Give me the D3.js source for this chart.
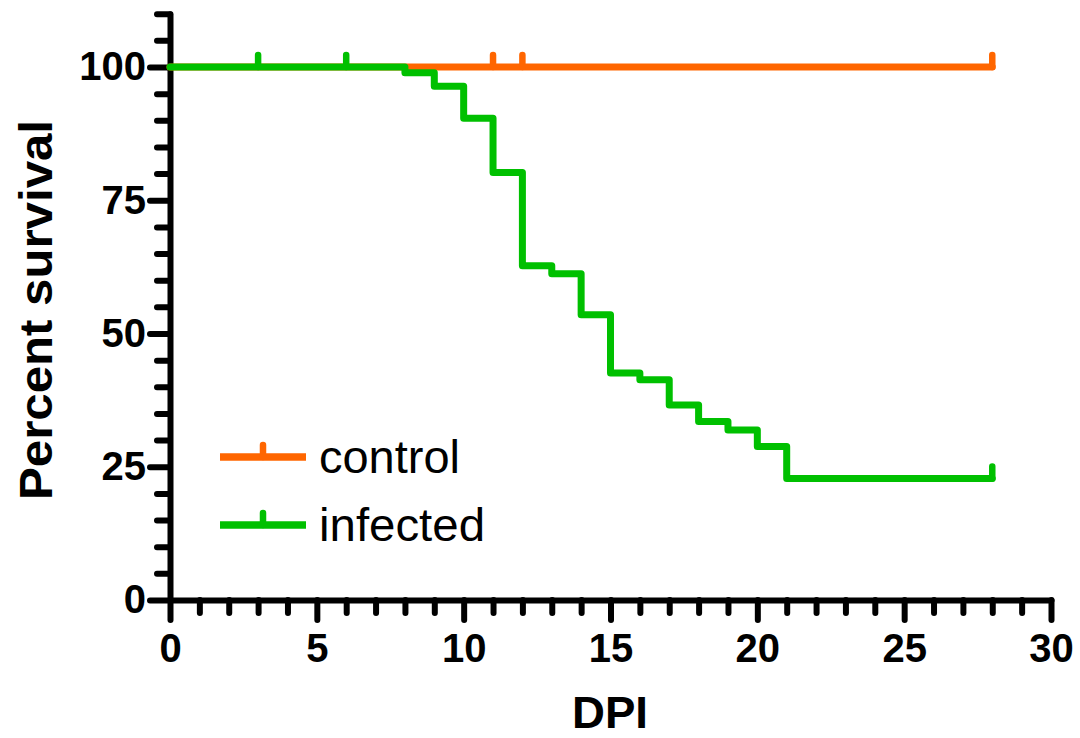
<!DOCTYPE html>
<html>
<head>
<meta charset="utf-8">
<script src="https://cdn.jsdelivr.net/npm/d3@7"></script>
<style>
  html, body { margin: 0; padding: 0; background: #fff; }
  svg { display: block; font-family: "Liberation Sans", Arial, sans-serif; }
  .axis .domain, .axis line { stroke: #000; stroke-width: 6; stroke-linecap: round; }
  .axis text { font-size: 40px; font-weight: bold; fill: #000; }
</style>
</head>
<body>
<svg id="chart" width="1080" height="738"></svg>
<script>
// ----- Data -----------------------------------------------------------------
const seriesNames = ["control", "infected"];
const seriesColors = ["#ff6600", "#00c000"];

// Kaplan-Meier steps: [day, percent survival]
const controlSteps = [[0, 100], [28, 100]];
const infectedSteps = [
    [0, 100], [8, 98.9], [9, 96.4], [10, 90.4], [11, 80.2], [12, 62.7],
    [13, 61.2], [14, 53.5], [15, 42.6], [16, 41.3], [17, 36.6], [18, 33.5],
    [19, 31.9], [20, 28.8], [21, 22.8], [28, 22.8]
];
// censored observations: [day, percent]
const controlCensored = [[11, 100], [12, 100], [28, 100]];
const infectedCensored = [[3, 100], [6, 100], [28, 22.8]];

const xMajorTicks = [0, 5, 10, 15, 20, 25, 30];
const yMajorTicks = [0, 25, 50, 75, 100];

// ----- Layout ---------------------------------------------------------------
const svg = d3.select("#chart");
const x = d3.scaleLinear().domain([0, 30]).range([170, 1051]);
const y = d3.scaleLinear().domain([0, 110]).range([600, 13.7]);

const xMinor = d3.range(0, 31, 1).filter((d) => d % 5 !== 0);
const yMinor = d3.range(0, 111, 5).filter((d) => d % 25 !== 0);

// minor ticks first
svg.append("g").attr("class", "axis").attr("transform", `translate(0,${y(0)})`)
    .call(d3.axisBottom(x).tickValues(xMinor).tickSize(13).tickSizeOuter(0).tickFormat(""))
    .call((g) => g.select(".domain").remove());
svg.append("g").attr("class", "axis").attr("transform", `translate(${x(0)},0)`)
    .call(d3.axisLeft(y).tickValues(yMinor).tickSize(13).tickSizeOuter(0).tickFormat(""))
    .call((g) => g.select(".domain").remove());

// major axes
svg.append("g").attr("class", "axis").attr("transform", `translate(0,${y(0)})`)
    .call(d3.axisBottom(x).tickValues(xMajorTicks).tickSize(20).tickSizeOuter(0).tickPadding(14));
svg.append("g").attr("class", "axis").attr("transform", `translate(${x(0)},0)`)
    .call(d3.axisLeft(y).tickValues(yMajorTicks).tickSize(20).tickSizeOuter(0).tickPadding(4));

// axis titles
svg.append("text")
    .attr("transform", "translate(52,310) rotate(-90)")
    .attr("text-anchor", "middle")
    .attr("textLength", 380)
    .attr("lengthAdjust", "spacingAndGlyphs")
    .style("font-size", "46px").style("font-weight", "bold")
    .text("Percent survival");
svg.append("text")
    .attr("x", 610).attr("y", 728)
    .attr("text-anchor", "middle")
    .attr("textLength", 76)
    .attr("lengthAdjust", "spacingAndGlyphs")
    .style("font-size", "44px").style("font-weight", "bold")
    .text("DPI");

// ----- Curves ---------------------------------------------------------------
const line = d3.line().x((d) => x(d[0])).y((d) => y(d[1])).curve(d3.curveStepAfter);
const curves = [
    { name: seriesNames[0], color: seriesColors[0], steps: controlSteps, cens: controlCensored },
    { name: seriesNames[1], color: seriesColors[1], steps: infectedSteps, cens: infectedCensored }
];

const plot = svg.append("g");
curves.forEach((c) => {
    const g = plot.append("g");
    g.append("path")
        .datum(c.steps)
        .attr("d", line)
        .attr("fill", "none")
        .attr("stroke", c.color)
        .attr("stroke-width", 7)
        .attr("stroke-linejoin", "round")
        .attr("stroke-linecap", "round");
    g.selectAll("line.cens")
        .data(c.cens)
        .join("line")
        .attr("x1", (d) => x(d[0])).attr("x2", (d) => x(d[0]))
        .attr("y1", (d) => y(d[1])).attr("y2", (d) => y(d[1]) - 12)
        .attr("stroke", c.color)
        .attr("stroke-width", 6.5)
        .attr("stroke-linecap", "round");
});

// ----- Legend ---------------------------------------------------------------
const legend = svg.append("g");
curves.forEach((c, i) => {
    const ly = 457 + i * 68;
    legend.append("line")
        .attr("x1", 220).attr("x2", 306).attr("y1", ly).attr("y2", ly)
        .attr("stroke", c.color).attr("stroke-width", 7.5).attr("stroke-linecap", "butt");
    legend.append("line")
        .attr("x1", 263).attr("x2", 263).attr("y1", ly).attr("y2", ly - 12)
        .attr("stroke", c.color).attr("stroke-width", 6.5).attr("stroke-linecap", "round");
    legend.append("text")
        .attr("x", 319).attr("y", ly + 16)
        .attr("textLength", seriesNames[i] === "control" ? 141 : 166)
        .attr("lengthAdjust", "spacingAndGlyphs")
        .style("font-size", "46px")
        .text(c.name);
});
</script>
</body>
</html>
